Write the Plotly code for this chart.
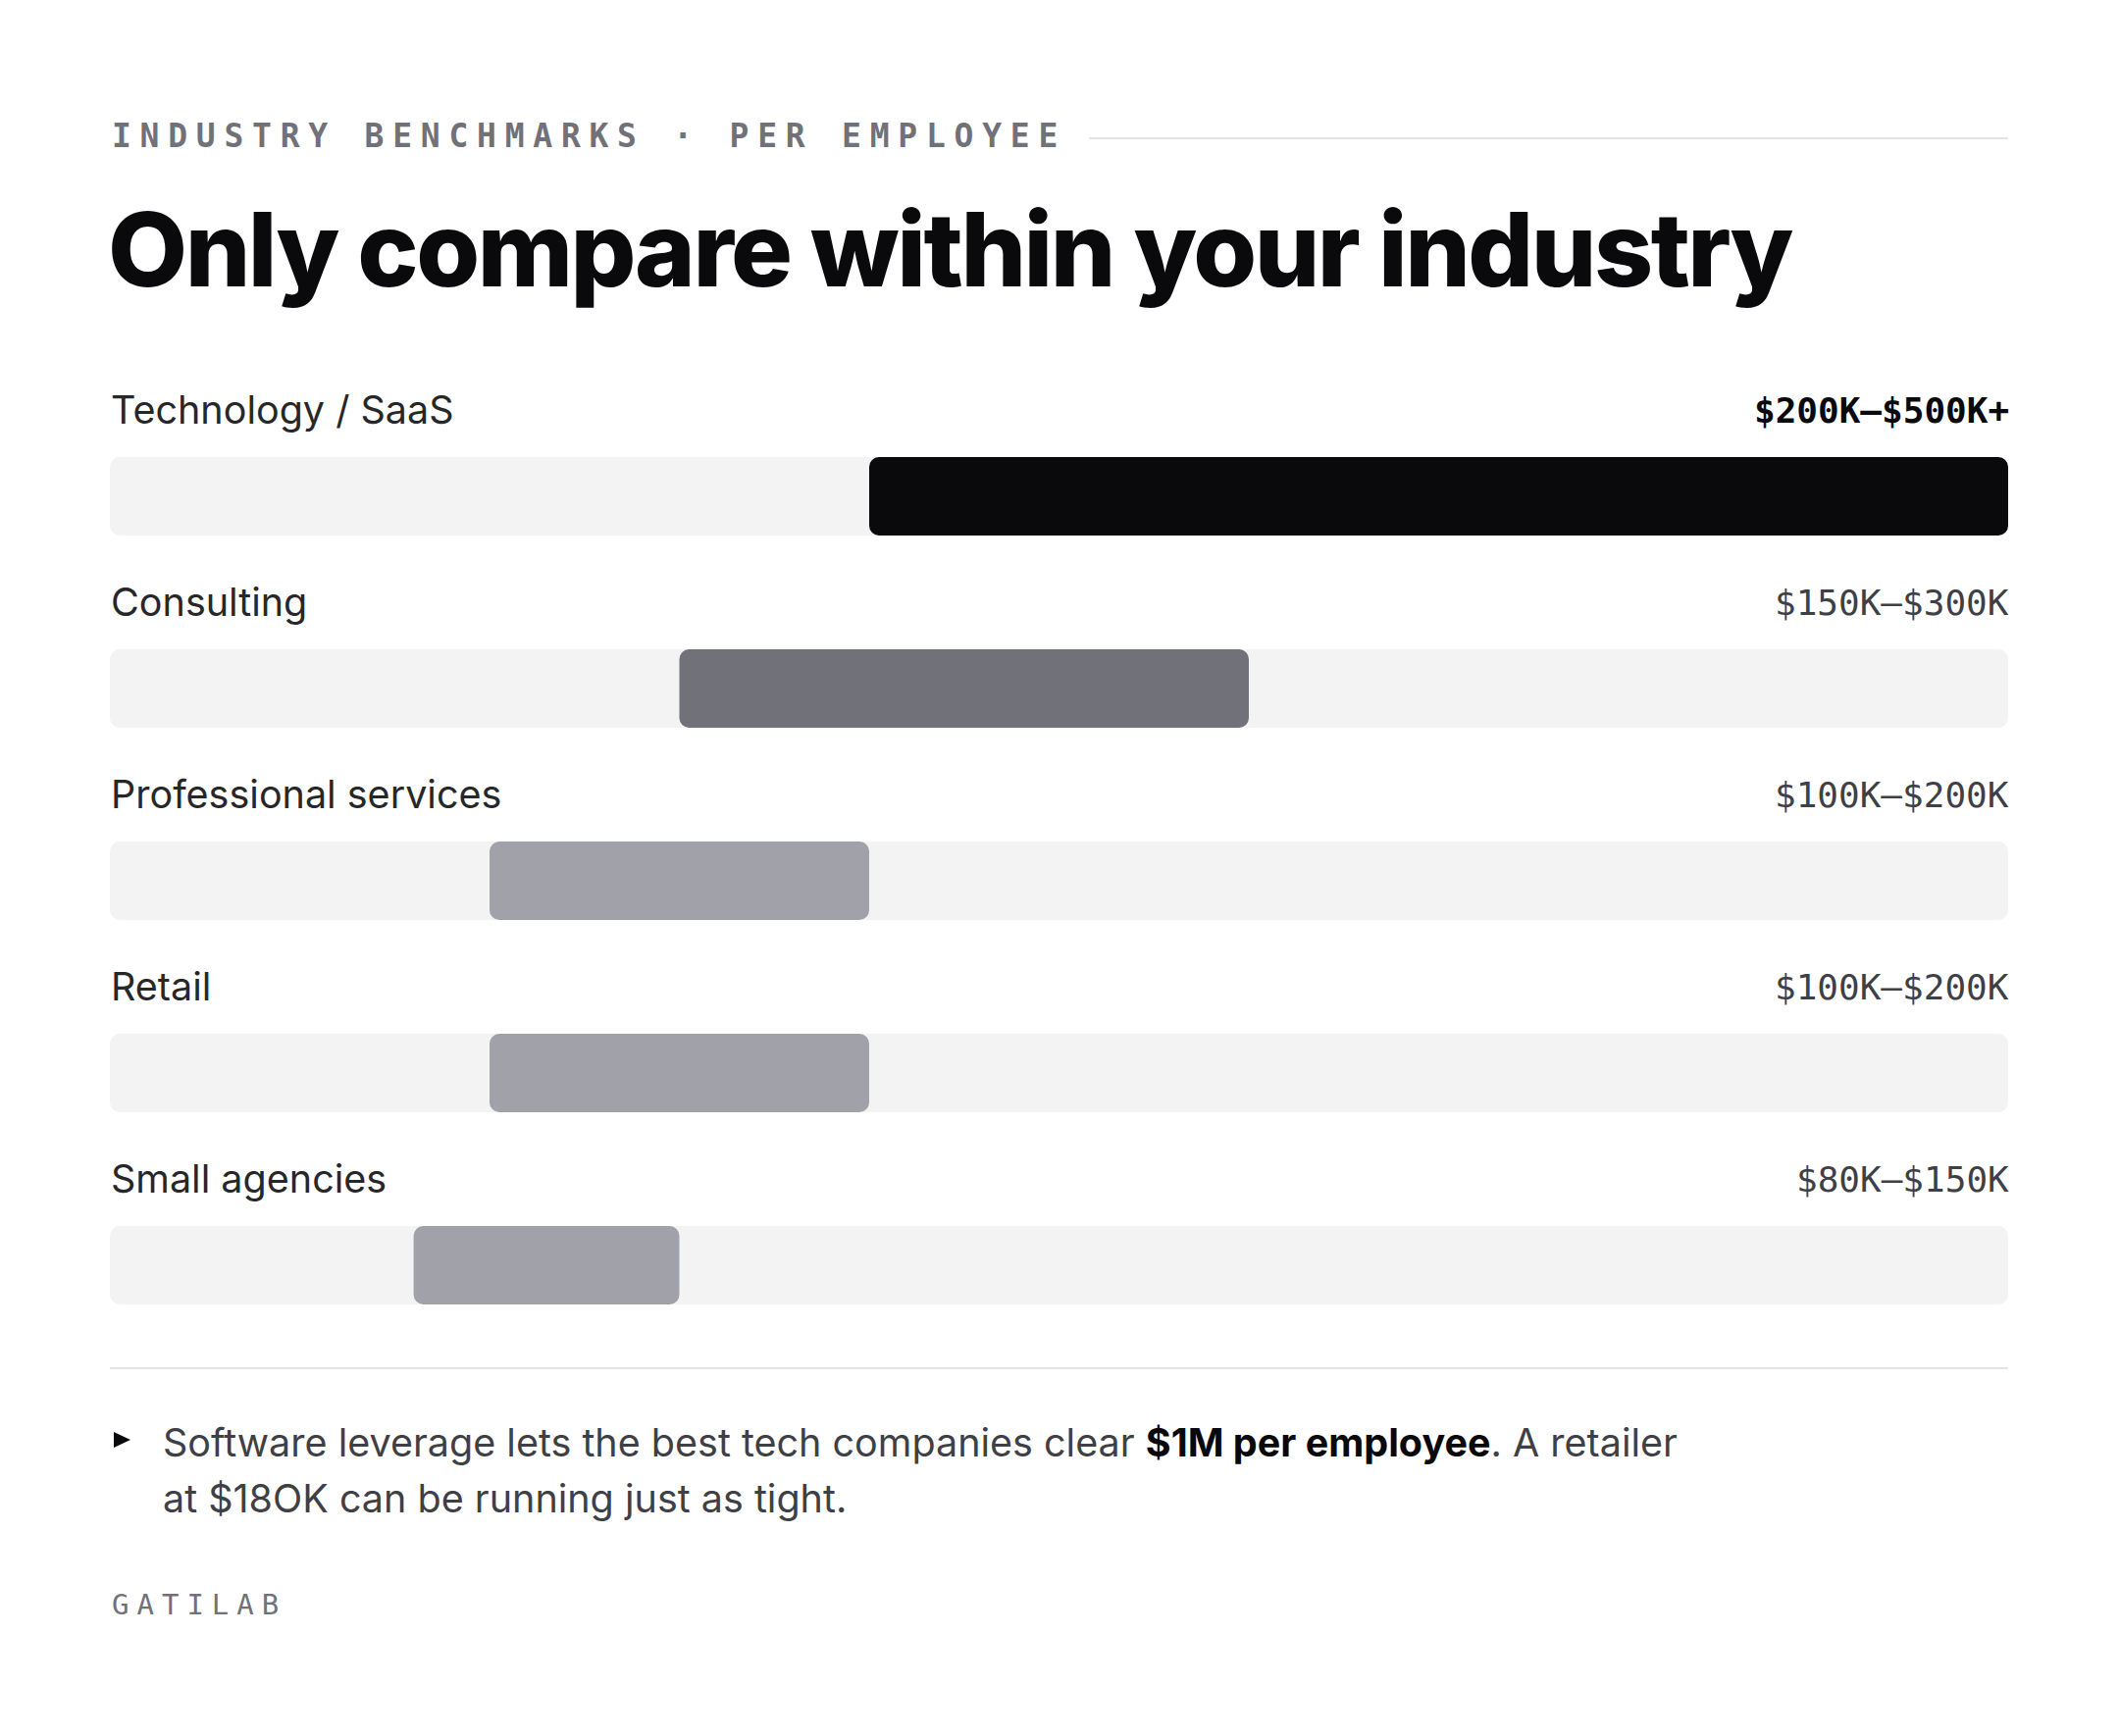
import plotly.graph_objects as go

# ---- data ----
industries = ["Technology / SaaS", "Consulting", "Professional services", "Retail", "Small agencies"]
low_k = [200, 150, 100, 100, 80]
high_k = [500, 300, 200, 200, 150]
range_labels = ["$200K–$500K+", "$150K–$300K", "$100K–$200K", "$100K–$200K", "$80K–$150K"]
bar_colors = ["#0a0a0c", "#71717a", "#a1a1aa", "#a1a1aa", "#a1a1aa"]
scale_max = 500

W, H = 2160, 1770
def px(x):
    return x / W
def py(y):
    return 1 - y / H

rows = list(range(len(industries)))
widths = [h - l for l, h in zip(low_k, high_k)]

fig = go.Figure()
fig.add_trace(go.Bar(
    orientation="h", y=rows, x=[scale_max] * len(rows), base=0,
    width=0.408, marker=dict(color="#f3f3f4", cornerradius=10, line=dict(width=0)),
    hoverinfo="skip", showlegend=False,
))
fig.add_trace(go.Bar(
    orientation="h", y=rows, x=widths, base=low_k,
    width=0.408, marker=dict(color=bar_colors, cornerradius=10, line=dict(width=0)),
    hoverinfo="skip", showlegend=False,
))

LABEL_FONT = "Inter, 'Noto Sans', sans-serif"
MONO_FONT = "'DejaVu Sans Mono', 'Liberation Mono', monospace"

annotations = []
for i, (name, rl) in enumerate(zip(industries, range_labels)):
    annotations.append(dict(
        x=0, y=i, xref="x", yref="y", xanchor="left", yanchor="middle",
        yshift=88, xshift=-1, text=name, showarrow=False,
        font=dict(family=LABEL_FONT, size=39.5, color="#27272a"),
    ))
    annotations.append(dict(
        x=scale_max, y=i, xref="x", yref="y", xanchor="right", yanchor="middle",
        yshift=88, xshift=3, text=(f"<b>{rl}</b>" if i == 0 else rl), showarrow=False,
        font=dict(family=MONO_FONT, size=36, color=("#0a0a0c" if i == 0 else "#3f3f46")),
    ))

# eyebrow
annotations.append(dict(
    x=px(112), y=py(138), xref="paper", yref="paper", xanchor="left", yanchor="middle",
    text='<span style="letter-spacing:8.75px">INDUSTRY BENCHMARKS · PER EMPLOYEE</span>',
    showarrow=False, font=dict(family=MONO_FONT, size=33, color="#71717a", weight="bold"),
))
# title
annotations.append(dict(
    x=px(108), y=py(253), xref="paper", yref="paper", xanchor="left", yanchor="middle",
    text='<span style="letter-spacing:-2.5px">Only compare within your industry</span>',
    showarrow=False, font=dict(family="Inter, sans-serif", size=105, color="#0a0a0c", weight=800),
))
# footnote
annotations.append(dict(
    x=px(164), y=py(1471), xref="paper", yref="paper", xanchor="left", yanchor="middle",
    text='Software leverage lets the best tech companies clear <span style="color:#09090b"><b>$1M per employee</b></span>. A retailer',
    showarrow=False, font=dict(family=LABEL_FONT, size=39.5, color="#3f3f46"),
))
annotations.append(dict(
    x=px(164), y=py(1528), xref="paper", yref="paper", xanchor="left", yanchor="middle",
    text='at $18OK can be running just as tight.',
    showarrow=False, font=dict(family=LABEL_FONT, size=39.5, color="#3f3f46"),
))
# footer
annotations.append(dict(
    x=px(112), y=py(1636), xref="paper", yref="paper", xanchor="left", yanchor="middle",
    text='<span style="letter-spacing:8px">GATILAB</span>',
    showarrow=False, font=dict(family=MONO_FONT, size=29, color="#71717a"),
))

shapes = [
    dict(type="line", xref="paper", yref="paper", x0=px(1110), x1=px(2047), y0=py(141), y1=py(141),
         line=dict(color="#e4e4e7", width=2)),
    dict(type="line", xref="paper", yref="paper", x0=px(112), x1=px(2047), y0=py(1395), y1=py(1395),
         line=dict(color="#e4e4e7", width=2)),
    dict(type="path", xref="paper", yref="paper",
         path=f"M {px(116)} {py(1460)} L {px(133)} {py(1468)} L {px(116)} {py(1476)} Z",
         fillcolor="#0a0a0c", line=dict(width=0)),
]

fig.update_layout(
    width=W, height=H,
    margin=dict(l=0, r=0, t=0, b=0),
    paper_bgcolor="#ffffff", plot_bgcolor="#ffffff",
    barmode="overlay",
    xaxis=dict(domain=[px(112), px(2047)], range=[0, scale_max], visible=False, fixedrange=True),
    yaxis=dict(domain=[py(1388), py(408)], range=[4.5, -0.5], visible=False, fixedrange=True),
    annotations=annotations,
    shapes=shapes,
    showlegend=False,
)

fig.write_html("out.html")
